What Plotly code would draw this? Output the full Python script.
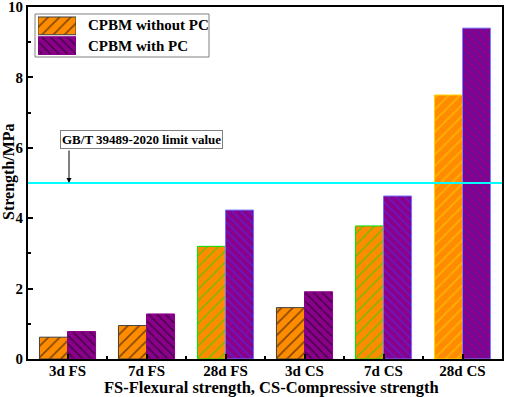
import plotly.graph_objects as go

categories = ["3d FS", "7d FS", "28d FS", "3d CS", "7d CS", "28d CS"]
without_pc = [0.62, 0.95, 3.20, 1.46, 3.78, 7.50]
with_pc = [0.78, 1.28, 4.23, 1.91, 4.63, 9.40]
series_names = ["CPBM without PC", "CPBM with PC"]
limit_value = 5
limit_label = "GB/T 39489-2020 limit value"
x_title = "FS-Flexural strength, CS-Compressive strength"
y_title = "Strength/MPa"

ORANGE = "#FF8C00"
PURPLE = "#8B008B"
orange_fg = ["#000000", "#000000", "#00E000", "#000000", "#00E000", "#FFD700"]
orange_line = ["#404040", "#404040", "#00E000", "#404040", "#00E000", "#FFD700"]
purple_fg = ["#000000", "#000000", "#3A3AFF", "#000000", "#3A3AFF", "#2828C0"]
purple_line = ["#8B008B", "#8B008B", "#7070FF", "#8B008B", "#7070FF", "#8080FF"]

FONT = "Liberation Serif"
W, H = 505, 397
L, R, T, B = 28, 3, 7, 38
PW, PH = W - L - R, H - T - B


def px_x(p):
    return (p - L) / PW


def px_y(p):
    return (H - B - p) / PH


xs = list(range(len(categories)))

fig = go.Figure()
fig.add_trace(go.Bar(
    x=xs, y=without_pc, name=series_names[0],
    marker=dict(color=ORANGE, line=dict(color=orange_line, width=1),
                pattern=dict(shape="/", fgcolor=orange_fg, bgcolor=ORANGE,
                             size=8, solidity=0.2)),
    showlegend=False,
))
fig.add_trace(go.Bar(
    x=xs, y=with_pc, name=series_names[1],
    marker=dict(color=PURPLE, line=dict(color=purple_line, width=1),
                pattern=dict(shape="\\", fgcolor=purple_fg, bgcolor=PURPLE,
                             size=6, solidity=0.25)),
    showlegend=False,
))

# legend swatches drawn on a tiny auxiliary axis
fig.add_trace(go.Bar(
    x=[1], y=[1], orientation="h", xaxis="x2", yaxis="y2", width=0.9,
    marker=dict(color=ORANGE, line=dict(color="#404040", width=1),
                pattern=dict(shape="/", fgcolor="#000000", bgcolor=ORANGE,
                             size=8, solidity=0.2)),
    showlegend=False, hoverinfo="skip",
))
fig.add_trace(go.Bar(
    x=[1], y=[0], orientation="h", xaxis="x2", yaxis="y2", width=0.9,
    marker=dict(color=PURPLE, line=dict(color=PURPLE, width=1),
                pattern=dict(shape="\\", fgcolor="#000000", bgcolor=PURPLE,
                             size=6, solidity=0.25)),
    showlegend=False, hoverinfo="skip",
))

axis_font = dict(family=FONT, size=15, color="black", weight="bold")

fig.update_layout(
    width=W, height=H, autosize=False,
    margin=dict(l=L, r=R, t=T, b=B, autoexpand=False),
    paper_bgcolor="white", plot_bgcolor="white",
    barmode="group", bargap=0.29, bargroupgap=0,
    showlegend=False,
    xaxis=dict(
        range=[-0.5, len(categories) - 0.5],
        tickvals=xs, ticktext=categories,
        ticks="inside", ticklen=5, tickwidth=2, tickcolor="black",
        minor=dict(tickvals=[i + 0.5 for i in xs[:-1]], ticks="inside",
                   ticklen=3, tickwidth=1.5, tickcolor="black"),
        showline=True, linecolor="black", linewidth=2, mirror=True,
        showgrid=False, zeroline=False, automargin=False,
        tickfont=axis_font, ticklabelstandoff=-3, ticklabeloverflow="allow",
    ),
    yaxis=dict(
        range=[0, 10], tickvals=[0, 2, 4, 6, 8, 10],
        ticks="inside", ticklen=5, tickwidth=1.5, tickcolor="black",
        minor=dict(tickvals=[1, 3, 5, 7, 9], ticks="inside",
                   ticklen=3, tickwidth=1.5, tickcolor="black"),
        showline=True, linecolor="black", linewidth=2, mirror=True,
        showgrid=False, zeroline=False, automargin=False,
        tickfont=axis_font, ticklabeloverflow="allow",
    ),
    xaxis2=dict(domain=[px_x(38), px_x(76)], range=[0, 1], anchor="y2",
                visible=False, fixedrange=True),
    yaxis2=dict(domain=[px_y(55.5), px_y(16)], range=[-0.5, 1.5], anchor="x2",
                visible=False, fixedrange=True),
)

# limit line
fig.add_shape(type="line", xref="paper", yref="y", x0=0, x1=1,
              y0=limit_value, y1=limit_value,
              line=dict(color="#00FFFF", width=2))

# legend box
fig.add_shape(type="rect", xref="paper", yref="paper",
              x0=px_x(35), x1=px_x(209), y0=px_y(57), y1=px_y(14),
              line=dict(color="#808080", width=1), fillcolor="rgba(0,0,0,0)")

legend_font = dict(family=FONT, size=15, color="black", weight="bold")
for name, ypx in zip(series_names, [25, 45.5]):
    fig.add_annotation(text=name, xref="paper", yref="paper",
                       x=px_x(86), y=px_y(ypx), xanchor="left", yanchor="middle",
                       showarrow=False, font=legend_font)

# limit label box
fig.add_annotation(text=limit_label, xref="paper", yref="paper",
                   x=px_x(141.5), y=px_y(139), xanchor="center", yanchor="middle",
                   showarrow=False, bordercolor="#808080", borderwidth=1,
                   borderpad=1, bgcolor="white",
                   font=dict(family=FONT, size=13, color="black", weight="bold"))
# arrow
fig.add_annotation(text="", xref="paper", yref="y",
                   x=px_x(69), y=limit_value, ax=0, ay=-34,
                   showarrow=True, arrowhead=2, arrowsize=1, arrowwidth=1,
                   arrowcolor="black", standoff=0)

# axis titles
fig.add_annotation(text=x_title, xref="paper", yref="paper",
                   x=px_x(271), y=px_y(387), xanchor="center", yanchor="middle",
                   showarrow=False,
                   font=dict(family=FONT, size=16.5, color="black", weight="bold"))
fig.add_annotation(text=y_title, xref="paper", yref="paper",
                   x=px_x(9), y=px_y(172), xanchor="center", yanchor="middle",
                   textangle=-90, showarrow=False,
                   font=dict(family=FONT, size=16, color="black", weight="bold"))

fig.write_html(
    "out.html",
    config={"displayModeBar": False, "responsive": False},
    post_script="document.body.style.margin='0';document.body.style.overflow='hidden';",
)
